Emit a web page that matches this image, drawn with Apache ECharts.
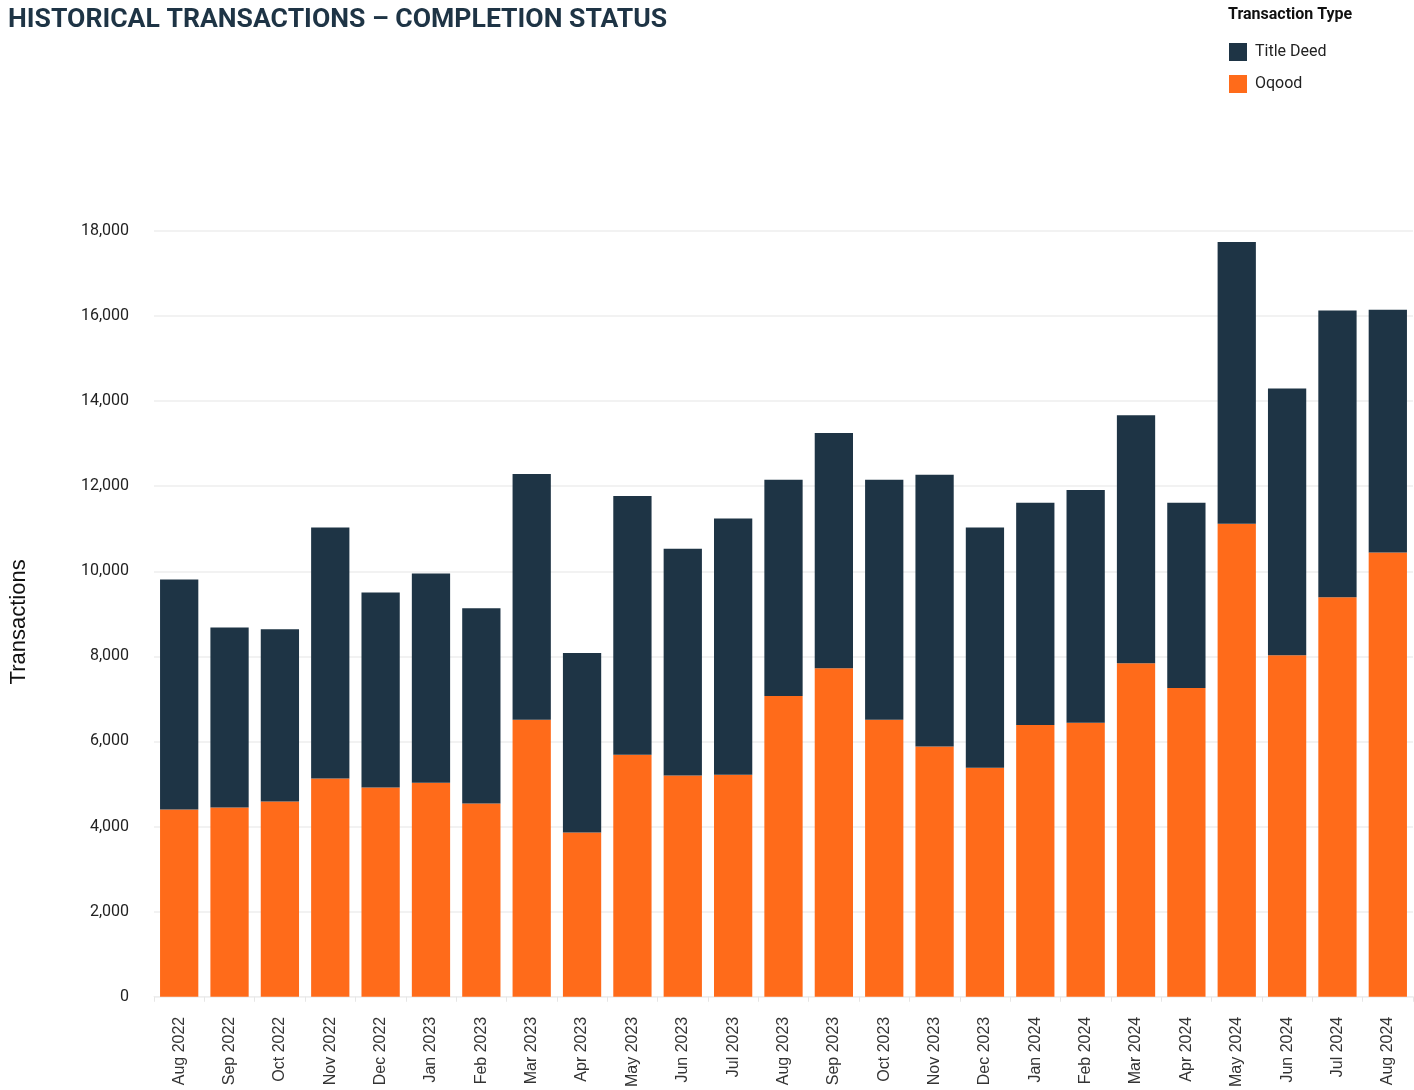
<!DOCTYPE html>
<html>
<head>
<meta charset="utf-8">
<script src="https://cdn.jsdelivr.net/npm/echarts@6/dist/echarts.min.js"></script>
<style>
  html, body { margin: 0; padding: 0; background: #fff; }
  #chart { width: 1414px; height: 1090px; }
</style>
</head>
<body>
<div id="chart"></div>
<script>
// months on the x axis
const months = ['Aug 2022', 'Sep 2022', 'Oct 2022', 'Nov 2022', 'Dec 2022', 'Jan 2023', 'Feb 2023',
    'Mar 2023', 'Apr 2023', 'May 2023', 'Jun 2023', 'Jul 2023', 'Aug 2023', 'Sep 2023', 'Oct 2023',
    'Nov 2023', 'Dec 2023', 'Jan 2024', 'Feb 2024', 'Mar 2024', 'Apr 2024', 'May 2024', 'Jun 2024',
    'Jul 2024', 'Aug 2024'];

// Oqood (off-plan) transactions, bottom of the stack
const oqood = [4400, 4450, 4590, 5130, 4920, 5030, 4540, 6510, 3860, 5690, 5200, 5220, 7070, 7720,
    6510, 5880, 5380, 6390, 6440, 7840, 7260, 11120, 8030, 9390, 10440];

// Title Deed transactions, top of the stack
const titleDeed = [5410, 4230, 4050, 5900, 4580, 4920, 4590, 5780, 4220, 6080, 5330, 6020, 5080, 5530,
    5640, 6390, 5650, 5220, 5470, 5830, 4350, 6620, 6270, 6740, 5710];

const chart = echarts.init(document.getElementById('chart'));

const option = {
    animation: false,
    title: {
        text: 'HISTORICAL TRANSACTIONS – COMPLETION STATUS',
        left: 3,
        top: 2,
        textStyle: {
            fontFamily: 'Roboto',
            fontWeight: 'bold',
            fontSize: 26.6,
            color: '#1e3445'
        }
    },
    graphic: [{
        type: 'text',
        left: 1228,
        top: 7,
        style: {
            text: 'Transaction Type',
            fontFamily: 'Roboto',
            fontWeight: 'bold',
            fontSize: 16,
            fill: '#111'
        }
    }],
    legend: {
        orient: 'vertical',
        left: 1224,
        top: 38,
        itemWidth: 18,
        itemHeight: 18,
        itemGap: 14,
        icon: 'rect',
        textStyle: {
            fontFamily: 'Roboto',
            fontSize: 16,
            color: '#222',
            padding: [0, 0, 0, 3]
        },
        data: ['Title Deed', 'Oqood']
    },
    grid: {
        left: 150,
        right: 1,
        top: 231,
        bottom: 90,
        containLabel: false
    },
    xAxis: {
        type: 'category',
        data: months,
        axisLine: { show: true, lineStyle: { color: '#eeeeee' } },
        axisTick: { show: true, length: 5, lineStyle: { color: '#e6e6e6' } },
        axisLabel: {
            rotate: 90,
            margin: 20,
            fontFamily: 'Liberation Sans',
            fontSize: 16,
            color: '#333'
        }
    },
    yAxis: {
        type: 'value',
        min: 0,
        max: 18000,
        interval: 2000,
        name: 'Transactions',
        nameLocation: 'middle',
        nameGap: 124,
        nameTextStyle: {
            fontFamily: 'Liberation Sans',
            fontSize: 22,
            color: '#111',
            padding: [0, 16, 0, 0]
        },
        axisLine: { show: false },
        axisTick: { show: false },
        splitLine: { lineStyle: { color: '#eeeeee', width: 1.5 } },
        axisLabel: {
            margin: 25,
            fontFamily: 'Roboto',
            fontSize: 16,
            color: '#222',
            padding: [0, 0, 10, 0],
            formatter: function (v) {
                return v.toLocaleString('en-US');
            }
        }
    },
    series: [{
        name: 'Oqood',
        type: 'bar',
        stack: 'total',
        data: oqood,
        barWidth: '76%',
        itemStyle: { color: '#ff6b1a' }
    }, {
        name: 'Title Deed',
        type: 'bar',
        stack: 'total',
        data: titleDeed,
        barWidth: '76%',
        itemStyle: { color: '#1e3445' }
    }]
};

chart.setOption(option);
</script>
</body>
</html>
